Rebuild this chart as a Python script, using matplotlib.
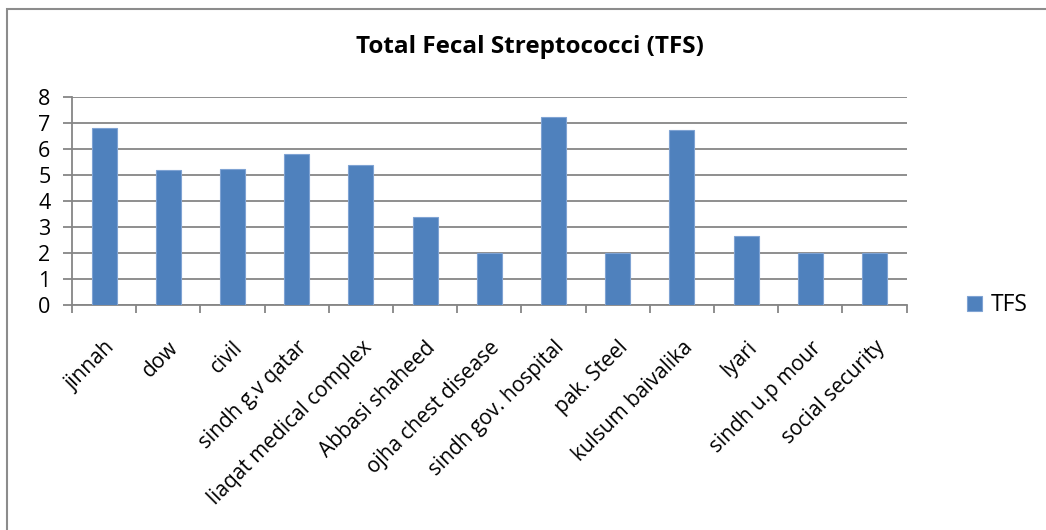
import numpy as np
import matplotlib
matplotlib.use('Agg')
import matplotlib.pyplot as plt
from matplotlib.patches import Rectangle

plt.rcParams['font.family'] = ['Open Sans', 'DejaVu Sans']

# data
hospitals = ['jinnah', 'dow', 'civil', 'sindh g.v qatar', 'liaqat medical complex',
             'Abbasi shaheed', 'ojha chest disease', 'sindh gov. hospital',
             'pak. Steel', 'kulsum baivalika', 'lyari', 'sindh u.p mour',
             'social security']
tfs = [6.8, 5.2, 5.25, 5.8, 5.4, 3.4, 2.0, 7.25, 2.0, 6.75, 2.65, 2.0, 2.0]
yticks = [0, 1, 2, 3, 4, 5, 6, 7, 8]

blue = '#4F81BD'
grey = '#868686'

fig = plt.figure(figsize=(10.46, 5.30), dpi=100)
ax = fig.add_axes([0.0688, 0.424, 0.798, 0.3926])

x = np.arange(len(hospitals))
ax.bar(x, tfs, width=0.39, color=blue, edgecolor='#7FA3D3', linewidth=0.8,
       label='TFS', zorder=3)

ax.set_xlim(-0.5, len(hospitals) - 0.5)
ax.set_ylim(0, 8)
ax.set_yticks(yticks)
ax.tick_params(axis='y', labelsize=15.5, length=6.5, width=1.3, color=grey, pad=9)
ax.yaxis.grid(True, color=grey, linewidth=1.3, zorder=0)

ax.set_xticks(x)
ax.set_xticklabels(hospitals, rotation=45, ha='right', rotation_mode='anchor',
                   fontsize=15)
ax.tick_params(axis='x', which='major', length=0, pad=23)
ax.set_xticks(np.arange(-0.5, len(hospitals)), minor=True)
ax.tick_params(axis='x', which='minor', length=6, width=1.3, color=grey)

for s in ['top', 'right']:
    ax.spines[s].set_visible(False)
for s in ['left', 'bottom']:
    ax.spines[s].set_color(grey)
    ax.spines[s].set_linewidth(1.3)

fig.text(0.507, 0.911, 'Total Fecal Streptococci (TFS)', ha='center', va='center',
         fontsize=17.5, fontweight='bold')

ax.legend(loc='center left', bbox_to_anchor=(1.048, 0.0), frameon=False,
          fontsize=16.5, handlelength=0.65, handleheight=0.65, handletextpad=0.35)

# chart frame (only the top and left edges are inside the crop)
fig.patches.append(Rectangle((7 / 1046, -0.1), 1.2, 1 - 9 / 530 + 0.1,
                             transform=fig.transFigure, fill=False,
                             edgecolor='#8C8C8C', linewidth=1.5))

fig.savefig('out.png', dpi=100)
